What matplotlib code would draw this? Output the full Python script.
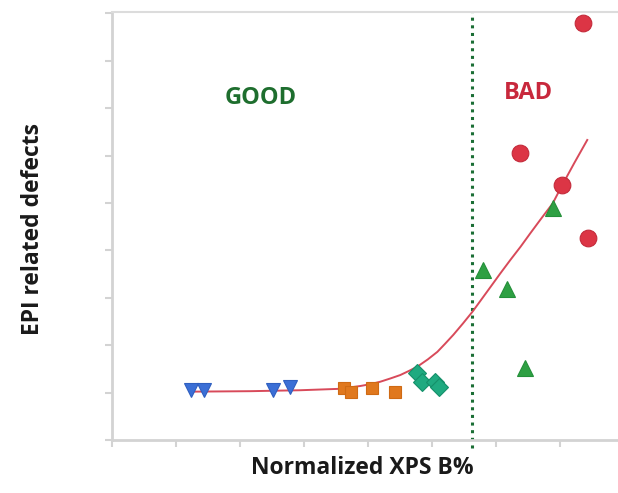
import matplotlib
matplotlib.use("Agg")
import matplotlib.pyplot as plt

# ---- data (axis units) ----
blue_x = [1.24, 1.43, 2.52, 2.78]
blue_y = [1.05, 1.05, 1.05, 1.12]

orange_x = [3.62, 3.73, 4.06, 4.42]
orange_y = [1.09, 1.02, 1.09, 1.02]

teal_x = [4.76, 4.84, 5.05, 5.10]
teal_y = [1.41, 1.23, 1.23, 1.12]

green_x = [5.79, 6.17, 6.45, 6.89]
green_y = [3.59, 3.18, 1.51, 4.89]

red_x = [7.36, 6.375, 7.03, 7.43]
red_y = [8.79, 6.06, 5.38, 4.26]

fit_x = [1.22, 2.16, 2.94, 3.56, 3.88, 4.04, 4.19, 4.35, 4.50, 4.64, 4.77,
         4.93, 5.08, 5.20, 5.33, 5.48, 5.63, 5.77, 5.91, 6.06, 6.22, 6.38,
         6.53, 6.70, 6.88, 7.03, 7.22, 7.42]
fit_y = [1.02, 1.03, 1.05, 1.08, 1.14, 1.18, 1.23, 1.30, 1.37, 1.46, 1.55,
         1.70, 1.86, 2.03, 2.22, 2.46, 2.71, 2.97, 3.23, 3.51, 3.80, 4.08,
         4.36, 4.67, 4.99, 5.38, 5.85, 6.33]

threshold_x = 5.62
x_ticks = [0, 1, 2, 3, 4, 5, 6, 7]
y_ticks = [0, 1, 2, 3, 4, 5, 6, 7, 8, 9]

W, H = 618, 493
fig = plt.figure(figsize=(W / 100, H / 100), dpi=100)
ax = fig.add_axes([112 / W, (H - 440) / H, (W - 112) / W, (440 - 12) / H])
ax.set_xlim(0, 7.9)
ax.set_ylim(0, 9.03)

ax.plot(fit_x, fit_y, color="#d84a5a", lw=1.4, zorder=3)
ax.axvline(threshold_x, ymin=-0.018, ymax=1, color="#1b6e35", lw=2.2,
           linestyle=(0, (1, 1.5)), clip_on=False, zorder=2)

ax.plot(blue_x, blue_y, "v", ms=10, color="#3b6fd6", mec="#2f5fc0", mew=0.8, zorder=4)
ax.plot(orange_x, orange_y, "s", ms=9, color="#e0781e", mec="#cf6a14", mew=0.8, zorder=4)
ax.plot(teal_x, teal_y, "D", ms=9, color="#1faa80", mec="#15906a", mew=0.8, zorder=4)
ax.plot(green_x, green_y, "^", ms=11, color="#2ea043", mec="#24903a", mew=0.8, zorder=4)
ax.plot(red_x, red_y, "o", ms=12, color="#dc3545", mec="#c42a3a", mew=0.8, zorder=4)

ax.set_xticks(x_ticks)
ax.set_yticks(y_ticks)
ax.set_xticklabels([])
ax.set_yticklabels([])
ax.tick_params(axis="both", direction="out", length=5, width=1.5, color="#d3d3d3")
for s in ["left", "bottom"]:
    ax.spines[s].set_color("#d3d3d3")
    ax.spines[s].set_linewidth(2)
ax.spines["top"].set_color("#dcdcdc")
ax.spines["top"].set_linewidth(1.5)
ax.spines["right"].set_visible(False)

ax.text((261 - 112) / 64, (440 - 98) / 47.4, "GOOD", color="#1e6e2e",
        fontsize=17, fontweight="bold", family="Open Sans", ha="center", va="center")
ax.text((528 - 112) / 64, (440 - 93) / 47.4, "BAD", color="#c8283c",
        fontsize=17, fontweight="bold", family="Open Sans", ha="center", va="center")

fig.text(362 / W, 1 - 468 / H, "Normalized XPS B%", fontsize=16.5, fontweight="bold",
         family="Open Sans", ha="center", va="center", color="#1a1a1a")
fig.text(33 / W, 1 - 229 / H, "EPI related defects", fontsize=16.5, fontweight="bold",
         family="Open Sans", ha="center", va="center", rotation=90, color="#1a1a1a")

fig.savefig("out.png", dpi=100)
